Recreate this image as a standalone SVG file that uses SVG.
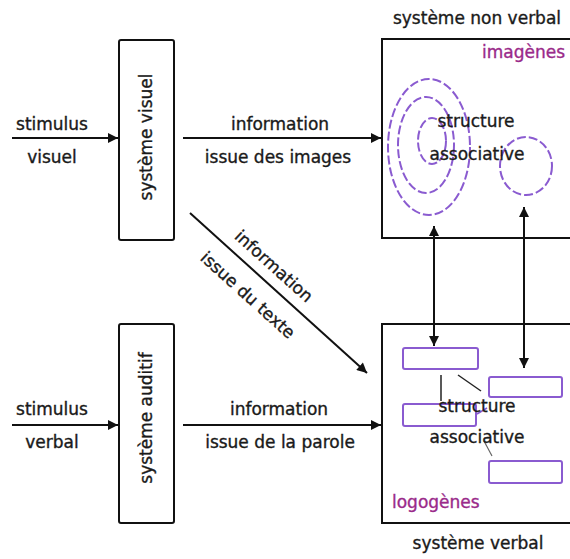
<svg xmlns="http://www.w3.org/2000/svg" width="570" height="559" viewBox="0 0 570 559">
<defs>
<marker id="ah" viewBox="0 0 10 10" refX="10" refY="5" markerWidth="5.5" markerHeight="5" orient="auto-start-reverse" markerUnits="strokeWidth">
<path d="M0,0 L10,5 L0,10 z" fill="#111"/>
</marker>
</defs>
<style>
text{font-family:"DejaVu Sans","Liberation Sans",sans-serif;font-size:17px;fill:#1a1a1a;stroke:#1a1a1a;stroke-width:0.35}
.m{text-anchor:middle}
.box{fill:#fff;stroke:#111;stroke-width:2}
.pur{fill:#9a2a8a;stroke:#9a2a8a}
.ell{fill:none;stroke:#8a5bd0;stroke-width:2;stroke-dasharray:9 3}
.pr{fill:#fff;stroke:#8a5bd0;stroke-width:2}
.con line{stroke:#111;stroke-width:2;marker-end:url(#ah)}
.thin{stroke:#222;stroke-width:1.5}
</style>
<rect width="570" height="559" fill="#fff"/>

<g id="visuel">
<rect class="box" x="119" y="40" width="55" height="200" rx="2"/>
<text class="m" transform="translate(152,137) rotate(-90)">système visuel</text>
</g>

<g id="auditif">
<rect class="box" x="119" y="324" width="55" height="199" rx="2"/>
<text class="m" transform="translate(152,418) rotate(-90)">système auditif</text>
</g>

<g id="nonverbal">
<rect class="box" x="382" y="39" width="200" height="199"/>
<text class="m" x="477" y="24">système non verbal</text>
<text class="pur" x="565" y="58" text-anchor="end">imagènes</text>
<ellipse class="ell" cx="429" cy="147" rx="41" ry="68"/>
<ellipse class="ell" cx="426" cy="145" rx="28" ry="48"/>
<ellipse class="ell" cx="432" cy="141" rx="14" ry="23"/>
<ellipse class="ell" cx="526" cy="166" rx="26" ry="29"/>
<text class="m" x="476" y="127">structure</text>
<text class="m" x="477" y="160">associative</text>
</g>

<g id="verbal">
<rect class="box" x="382" y="324" width="200" height="199"/>
<line class="thin" x1="441" y1="375" x2="441" y2="401"/>
<line class="thin" x1="458" y1="375" x2="481" y2="391"/>
<line stroke="#8a5bd0" stroke-width="1.5" x1="477" y1="414" x2="487" y2="408"/>
<line stroke="#666" stroke-width="1.2" x1="484" y1="441" x2="492" y2="456"/>
<rect class="pr" x="403" y="348" width="75" height="21" rx="2"/>
<rect class="pr" x="489" y="377" width="73" height="20" rx="2"/>
<rect class="pr" x="403" y="404" width="73" height="22" rx="2"/>
<rect class="pr" x="489" y="461" width="73" height="22" rx="2"/>
<text class="m" x="477" y="412">structure</text>
<text class="m" x="477" y="443">associative</text>
<text class="pur" x="392" y="508">logogènes</text>
<text class="m" x="478" y="549">système verbal</text>
</g>

<g id="connectors" class="con">
<line x1="12" y1="138" x2="118" y2="138"/>
<line x1="183" y1="138" x2="381" y2="138"/>
<line x1="12" y1="425" x2="118" y2="425"/>
<line x1="183" y1="425" x2="381" y2="425"/>
<line x1="190" y1="213" x2="367" y2="373"/>
<line x1="434" y1="226" x2="434" y2="346" marker-start="url(#ah)"/>
<line x1="524" y1="207" x2="524" y2="368" marker-start="url(#ah)"/>
</g>

<g id="labels">
<text class="m" x="52" y="130">stimulus</text>
<text class="m" x="52" y="163">visuel</text>
<text class="m" x="280" y="130">information</text>
<text class="m" x="278" y="163">issue des images</text>
<text class="m" x="52" y="415">stimulus</text>
<text class="m" x="52" y="448">verbal</text>
<text class="m" x="279" y="415">information</text>
<text class="m" x="280" y="448">issue de la parole</text>
<text class="m" transform="translate(274,266) rotate(42)" y="6">information</text>
<text class="m" transform="translate(248,295) rotate(42)" y="6">issue du texte</text>
</g>
</svg>
